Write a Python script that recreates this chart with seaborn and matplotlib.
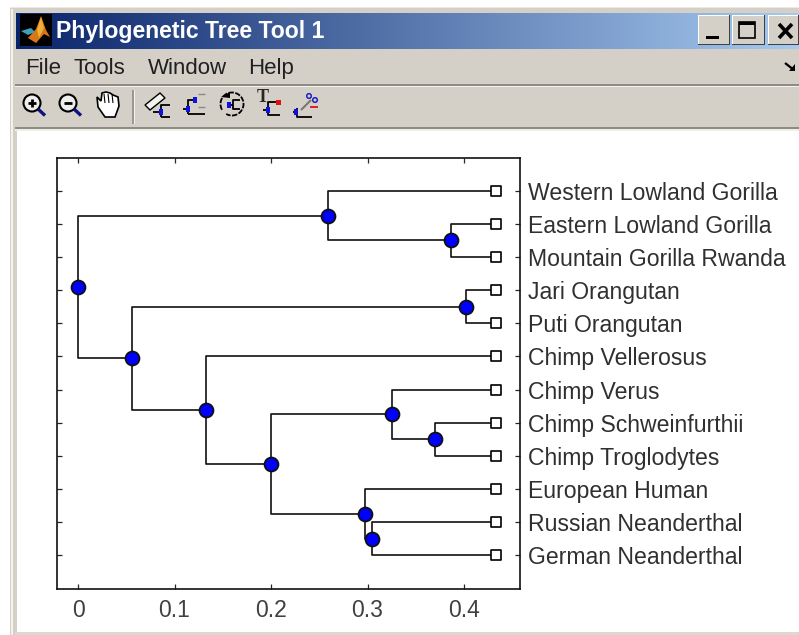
import numpy as np
import pandas as pd
import matplotlib
matplotlib.use("Agg")
import matplotlib.pyplot as plt
from matplotlib.patches import Rectangle, Circle, Polygon, Arc
import seaborn as sns

# Leaves from top to bottom, all end at the same distance
leaf_names = ['Western Lowland Gorilla', 'Eastern Lowland Gorilla', 'Mountain Gorilla Rwanda',
              'Jari Orangutan', 'Puti Orangutan', 'Chimp Vellerosus', 'Chimp Verus',
              'Chimp Schweinfurthii', 'Chimp Troglodytes', 'European Human',
              'Russian Neanderthal', 'German Neanderthal']
leaf_x = [0.433] * 12
leaf_y = list(range(1, 13))

# Branch points
node_names = ['root', 'gorilla', 'eastmountain', 'orang', 'rest', 'chimphuman', 'cladeE',
              'chimps', 'schwtrog', 'humans', 'neander']
node_x = [0.0, 0.259, 0.3865, 0.402, 0.056, 0.1326, 0.2, 0.3254, 0.37, 0.2974, 0.3047]
node_y = [3.906, 1.75, 2.5, 4.5, 6.0625, 7.625, 9.25, 7.75, 8.5, 10.75, 11.5]

# parent -> children
links = {
    'root': ['gorilla', 'rest'],
    'gorilla': ['Western Lowland Gorilla', 'eastmountain'],
    'eastmountain': ['Eastern Lowland Gorilla', 'Mountain Gorilla Rwanda'],
    'rest': ['orang', 'chimphuman'],
    'orang': ['Jari Orangutan', 'Puti Orangutan'],
    'chimphuman': ['Chimp Vellerosus', 'cladeE'],
    'cladeE': ['chimps', 'humans'],
    'chimps': ['Chimp Verus', 'schwtrog'],
    'schwtrog': ['Chimp Schweinfurthii', 'Chimp Troglodytes'],
    'humans': ['European Human', 'neander'],
    'neander': ['Russian Neanderthal', 'German Neanderthal'],
}

x_ticks = [0, 0.1, 0.2, 0.3, 0.4]
x_labels = ['0', '0.1', '0.2', '0.3', '0.4']

sns.set_style('white')
plt.rcParams['font.family'] = ['Liberation Sans', 'DejaVu Sans']

pos = dict(zip(node_names, zip(node_x, node_y)))
pos.update(dict(zip(leaf_names, zip(leaf_x, leaf_y))))

rows = []
for parent, kids in links.items():
    for kid in kids:
        px, py = pos[parent]
        cx, cy = pos[kid]
        edge = parent + '-' + kid
        rows += [(edge, 0, px, py), (edge, 1, px, cy), (edge, 2, cx, cy)]
edges = pd.DataFrame(rows, columns=['edge', 'order', 'x', 'y'])
nodes = pd.DataFrame({'x': node_x, 'y': node_y})
leaves = pd.DataFrame({'x': leaf_x, 'y': leaf_y})

W, H = 799, 635
fig = plt.figure(figsize=(W / 100, H / 100), dpi=100, facecolor='white')

# Window chrome, in pixel coordinates
win = fig.add_axes([0, 0, 1, 1], zorder=0)
win.set_xlim(0, W)
win.set_ylim(H, 0)
win.axis('off')
GREY = '#d4d0c8'


def rect(x0, y0, x1, y1, color, z=1, **kw):
    win.add_patch(Rectangle((x0, y0), x1 - x0, y1 - y0, facecolor=color, edgecolor='none', zorder=z, **kw))


def seg(xs, ys, color='black', lw=1.3, z=4, **kw):
    win.plot(xs, ys, color=color, lw=lw, zorder=z, solid_capstyle='butt', **kw)


rect(10, 7, W, H, GREY)
rect(10, 7, W, 8, '#ece9e2')
rect(11, 9, 13, H, '#f4f2ee')
rect(15, 12, W, H, GREY)
rect(17, 131, W, 632, 'white')
rect(15, 632, W, H, '#dcd9d2')

grad = np.linspace(0, 1, 256)[None, :, None]
left = np.array([10, 36, 106]) / 255
right = np.array([166, 202, 240]) / 255
win.imshow(left + grad * (right - left), extent=(16, W, 49, 13), aspect='auto', zorder=2,
           interpolation='bilinear')
win.set_xlim(0, W)
win.set_ylim(H, 0)

# separators
rect(15, 84, W, 86, '#8f8c86', 3)
rect(15, 86, W, 87, '#f4f2ee', 3)
rect(15, 127, W, 129, '#8f8c86', 3)
rect(15, 129, W, 131, '#f0eee9', 3)
rect(132, 90, 134, 124, '#9a9791', 3)
rect(134, 90, 135, 124, '#f4f2ee', 3)

# title bar
rect(20, 14, 52, 46, 'black', 3)
win.add_patch(Polygon([[28, 38], [36, 29], [41, 16], [46, 30], [50, 37], [44, 34], [36, 43]],
                      facecolor='#d9761a', edgecolor='none', zorder=4))
win.add_patch(Polygon([[41, 17], [44, 28], [39, 38], [37, 30]], facecolor='#efb035', edgecolor='none', zorder=5))
win.add_patch(Polygon([[21, 31], [31, 28], [35, 32], [28, 35]], facecolor='#3f9fb5', edgecolor='none', zorder=5))
win.text(56, 31.5, 'Phylogenetic Tree Tool 1', color='white', fontsize=16.6, va='center', ha='left',
         family='Liberation Sans', zorder=5, fontweight='bold')

for x0, x1 in [(698, 730), (732, 765), (768, 799)]:
    rect(x0, 15, x1, 45, '#404040', 3)
    rect(x0, 15, x1 - 1, 44, 'white', 3)
    rect(x0 + 1, 16, x1 - 1, 44, GREY, 3)
rect(706, 36, 719, 39, 'black', 4)
win.add_patch(Rectangle((739, 22), 16, 16, facecolor='none', edgecolor='black', lw=1.2, zorder=4))
rect(739, 22, 755, 25, 'black', 4)
seg([779, 792], [24, 38], lw=2.6)
seg([779, 792], [38, 24], lw=2.6)

# menu
for label, mx in zip(['File', 'Tools', 'Window', 'Help'], [25, 74, 148, 248]):
    win.text(mx, 68.5, label, fontsize=16, color='#202020', va='center', ha='left', zorder=5)
seg([785, 794], [63, 70], lw=1.6)
win.add_patch(Polygon([[795, 71], [795, 64], [789, 71]], facecolor='black', edgecolor='none', zorder=4))

# toolbar icons
for cx, mark in [(32, '+'), (68, '-')]:
    win.add_patch(Circle((cx, 103), 8.5, facecolor='#eeeeea', edgecolor='black', lw=1.5, zorder=4))
    seg([cx + 6, cx + 13], [109, 115.5], color='#101080', lw=2.4)
    seg([cx - 4, cx + 4], [103, 103], lw=2)
    if mark == '+':
        seg([cx, cx], [99, 107], lw=2)

win.add_patch(Polygon([[98, 107], [97, 97], [101, 101], [102, 93], [106, 92], [110, 93], [113, 95], [118, 97],
                       [119, 106], [115, 117], [105, 117]],
                      facecolor='white', edgecolor='black', lw=1.2, zorder=4))
for hx in [104, 108, 112]:
    seg([hx, hx + 1], [94, 103], lw=0.8, z=5)

win.add_patch(Polygon([[145, 105], [160, 93], [165, 98], [150, 110]], facecolor='#f4f4f0', edgecolor='black',
                      lw=1, zorder=4))
seg([153, 161], [112, 112])
seg([161, 161, 170], [117, 105, 105])
seg([161, 170], [117, 117])
seg([183, 188], [109, 109])
seg([188, 188, 195], [114, 100, 100])
seg([188, 205], [114, 114])
seg([198, 205], [94, 94], color='#888888', lw=1)
seg([198, 205], [107, 107], color='#888888', lw=1)
win.add_patch(Arc((232, 104), 23, 23, theta1=-210, theta2=120, color='black', lw=1.3, ls=(0, (3, 0.8)), zorder=4))
win.add_patch(Polygon([[221, 97], [230, 92], [230, 98]], facecolor='black', edgecolor='none', zorder=4))
seg([227, 233], [105, 105])
seg([240, 233, 233, 240], [100, 100, 109, 109])
win.text(263, 98, 'T', fontsize=13, family='Liberation Serif', fontweight='bold', ha='center', va='center', zorder=5)
seg([263, 268], [110, 110])
seg([278, 268, 268, 280], [102, 102, 115, 115])
rect(276, 100, 281, 105, '#e01010', 5)
seg([293, 297], [112, 112])
seg([297, 297, 312], [108, 117, 117])
win.add_patch(Circle((309, 96), 2.3, facecolor='none', edgecolor='#2020c0', lw=1.1, zorder=4))
win.add_patch(Circle((315, 100), 2.3, facecolor='none', edgecolor='#2020c0', lw=1.1, zorder=4))
seg([301, 311], [110, 100], color='#777777', lw=1.5)
seg([310, 318], [107, 107], color='#e02020', lw=1.4)
for bx, by in [(161, 112), (195, 100), (188, 109), (229, 105), (268, 110), (296, 112)]:
    rect(bx - 2, by - 3, bx + 2, by + 3, '#1010e0', 6)

# The tree itself
ax = fig.add_axes([57 / W, 1 - 589 / H, 463 / W, 431 / H], zorder=2)
ax.set_facecolor('white')
sns.lineplot(data=edges, x='x', y='y', units='edge', estimator=None, sort=False, color='#111111',
             linewidth=1.2, legend=False, ax=ax, zorder=2)
sns.scatterplot(data=leaves, x='x', y='y', marker='s', s=46, facecolor='white', edgecolor='black',
                linewidth=1.2, legend=False, ax=ax, zorder=3)
sns.scatterplot(data=nodes, x='x', y='y', marker='o', s=100, color='#0000ff', edgecolor='#101010',
                linewidth=1.3, legend=False, ax=ax, zorder=4)

ax.set_xlim(-0.0218, 0.458)
ax.set_ylim(13.015, 0.015)
ax.set_xticks(x_ticks)
ax.set_xticklabels(x_labels)
ax.set_yticks(leaf_y)
ax.set_yticklabels(leaf_names)
ax.set_xlabel('')
ax.set_ylabel('')
ax.tick_params(axis='x', which='both', direction='in', length=3.5, width=0.9, bottom=True, top=True,
               labelsize=16.5, labelcolor='#404040', pad=7.5)
ax.tick_params(axis='y', which='both', direction='in', length=3.5, width=0.9, left=True, right=True,
               labelleft=False, labelright=True, labelsize=16.6, labelcolor='#303030', pad=5.5)
for spine in ax.spines.values():
    spine.set_visible(True)
    spine.set_color('#111111')
    spine.set_linewidth(1.2)

fig.savefig('out.png', dpi=100, facecolor='white')
